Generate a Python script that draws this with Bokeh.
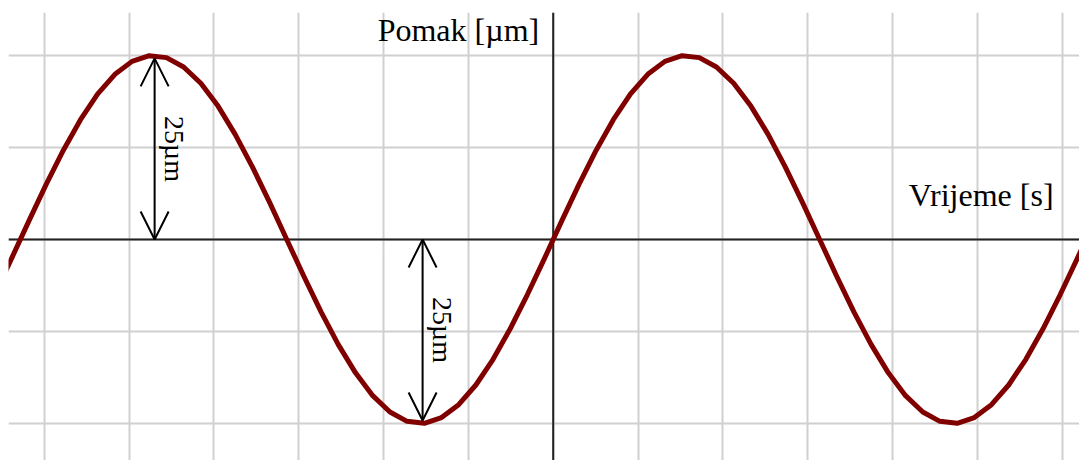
import math
from bokeh.plotting import figure
from bokeh.models import (ColumnDataSource, Grid, FixedTicker, Span, Arrow,
                          OpenHead, Label, Range1d)
from bokeh.embed import file_html
from bokeh.resources import INLINE

# ---- data ----
time_x = [-6.587, -6.385, -6.182, -5.979, -5.776, -5.574, -5.371, -5.168,
          -4.966, -4.763, -4.560, -4.358, -4.155, -3.952, -3.750, -3.547,
          -3.344, -3.142, -2.939, -2.736, -2.534, -2.331, -2.128, -1.925,
          -1.723, -1.520, -1.317, -1.115, -0.912, -0.709, -0.507, -0.304,
          -0.101, 0.101, 0.304, 0.507, 0.709, 0.912, 1.115, 1.317, 1.520,
          1.723, 1.925, 2.128, 2.331, 2.534, 2.736, 2.939, 3.142, 3.344,
          3.547, 3.750, 3.952, 4.155, 4.358, 4.560, 4.763, 4.966, 5.168,
          5.371, 5.574, 5.776, 5.979, 6.182, 6.385, 6.587]
displacement = [-7.48, -2.53, 2.53, 7.48, 12.13, 16.28, 19.77, 22.44,
                24.20, 24.97, 24.71, 23.44, 21.22, 18.12, 14.28, 9.86,
                5.03, 0.00, -5.03, -9.86, -14.28, -18.12, -21.22, -23.44,
                -24.71, -24.97, -24.20, -22.44, -19.77, -16.28, -12.13, -7.48,
                -2.53, 2.53, 7.48, 12.13, 16.28, 19.77, 22.44, 24.20, 24.97,
                24.71, 23.44, 21.22, 18.12, 14.28, 9.86, 5.03, 0.00, -5.03,
                -9.86, -14.28, -18.12, -21.22, -23.44, -24.71, -24.97, -24.20,
                -22.44, -19.77, -16.28, -12.13, -7.48, -2.53, 2.53, 7.48]

x_grid_ticks = [-6, -5, -4, -3, -2, -1, 0, 1, 2, 3, 4, 5, 6]
y_grid_ticks = [-25, -12.5, 0, 12.5, 25]

arrow_x = [-4.70, -1.54]
arrow_y_start = [0, 0]
arrow_y_end = [24.6, -24.6]
arrow_label_y = [12.3, -12.3]
arrow_labels = ["25µm", "25µm"]

y_axis_title = "Pomak [µm]"
x_axis_title = "Vrijeme [s]"

FONT = "Liberation Serif"

p = figure(width=1079, height=460, output_backend="svg", toolbar_location=None,
           x_axis_type=None, y_axis_type=None,
           x_range=Range1d(-6.423, 6.206), y_range=Range1d(-30.03, 30.84),
           min_border_left=8, min_border_right=0, min_border_top=12,
           min_border_bottom=0, outline_line_color=None,
           background_fill_color="white", border_fill_color="white")

p.add_layout(Grid(dimension=0, ticker=FixedTicker(ticks=x_grid_ticks),
                  grid_line_color="#d0d0d0", grid_line_width=2))
p.add_layout(Grid(dimension=1, ticker=FixedTicker(ticks=y_grid_ticks),
                  grid_line_color="#d0d0d0", grid_line_width=2))

p.add_layout(Span(location=0, dimension="width", line_color="#222222",
                  line_width=2, level="underlay"))
p.add_layout(Span(location=0, dimension="height", line_color="#222222",
                  line_width=2, level="underlay"))

src = ColumnDataSource(data=dict(x=time_x, y=displacement))
p.line("x", "y", source=src, line_color="#800000", line_width=5,
       line_join="round")

arrow_src = ColumnDataSource(data=dict(x=arrow_x, y0=arrow_y_start,
                                       y1=arrow_y_end))
p.add_layout(Arrow(source=arrow_src, x_start="x", y_start="y0",
                   x_end="x", y_end="y1", line_color="black", line_width=2,
                   start=OpenHead(size=28, line_width=2, line_color="black"),
                   end=OpenHead(size=28, line_width=2, line_color="black")))

for ax, ay, txt in zip(arrow_x, arrow_label_y, arrow_labels):
    p.add_layout(Label(x=ax, y=ay, text=txt, angle=-math.pi / 2,
                       x_offset=20, text_align="center",
                       text_baseline="middle", text_font=FONT,
                       text_font_size="28px", text_color="black"))

p.add_layout(Label(x=0, y=28.53, x_offset=-14, text=y_axis_title,
                   text_align="right", text_baseline="alphabetic",
                   text_font=FONT, text_font_size="32px", text_color="black"))
p.add_layout(Label(x=5.90, y=5.98, text=x_axis_title,
                   text_align="right", text_baseline="alphabetic",
                   text_font=FONT, text_font_size="32px", text_color="black"))

open("out.html", "w").write(file_html(p, INLINE))
